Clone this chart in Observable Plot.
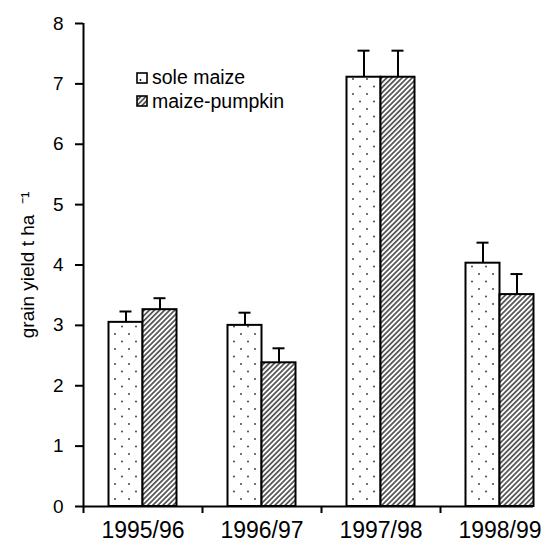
<!DOCTYPE html>
<html><head><meta charset="utf-8">
<script src="https://cdn.jsdelivr.net/npm/d3@7"></script>
<script src="https://cdn.jsdelivr.net/npm/@observablehq/plot@0.6"></script>
<style>
body{margin:0;background:#fff;}
#wrap{position:relative;width:555px;height:545px;font-family:"Liberation Sans",Arial,sans-serif;}
#legend{position:absolute;left:136px;top:66px;font-size:19.5px;color:#000;}
#legend .row{display:flex;align-items:center;height:23.5px;}
#legend svg{margin-right:4px;}
</style></head>
<body>
<svg width="0" height="0" style="position:absolute">
<defs>
<pattern id="dots" patternUnits="userSpaceOnUse" width="14" height="15">
 <rect width="14" height="15" fill="#fff"/>
 <circle cx="3" cy="4" r="0.9" fill="#333"/>
 <circle cx="10" cy="11.5" r="0.9" fill="#333"/>
</pattern>
<pattern id="hatch" patternUnits="userSpaceOnUse" width="3.6" height="3.6" patternTransform="rotate(45)">
 <rect width="3.6" height="3.6" fill="#fff"/>
 <line x1="0.9" y1="-1" x2="0.9" y2="4.6" stroke="#444" stroke-width="1.6"/>
</pattern>
</defs></svg>
<div id="wrap"></div>
<script>
const years = ["1995/96", "1996/97", "1997/98", "1998/99"];
const series = ["sole maize", "maize-pumpkin"];
const soleMaize = [3.05, 3.00, 7.11, 4.03];
const soleMaizeErr = [0.18, 0.21, 0.44, 0.34];
const maizePumpkin = [3.26, 2.38, 7.11, 3.51];
const maizePumpkinErr = [0.19, 0.24, 0.44, 0.34];
const yTicks = [0, 1, 2, 3, 4, 5, 6, 7, 8];
const yTitle = "grain yield t ha  \u207B\u00B9";

const fills = {"sole maize": "url(#dots)", "maize-pumpkin": "url(#hatch)"};

const sole = years.map((y, i) => ({year: y, series: series[0], value: soleMaize[i], err: soleMaizeErr[i]}));
const pump = years.map((y, i) => ({year: y, series: series[1], value: maizePumpkin[i], err: maizePumpkinErr[i]}));

const W = 555, H = 545, mL = 83, mR = 22, mT = 23, mB = 39;
const band = 119, barW = 34, capW = 12;

const chart = Plot.plot({
  width: W, height: H,
  marginLeft: mL, marginRight: mR, marginTop: mT, marginBottom: mB,
  style: {fontFamily: "Liberation Sans, Arial, sans-serif", color: "#000", background: "#fff"},
  x: {type: "band", domain: years, range: [mL, mL + band * years.length], padding: 0},
  y: {domain: [0, 8]},
  marks: [
    Plot.barY(sole, {x: "year", y: "value", fill: fills[series[0]], stroke: "#000", strokeWidth: 2,
      insetLeft: band / 2 - barW, insetRight: band / 2}),
    Plot.barY(pump, {x: "year", y: "value", fill: fills[series[1]], stroke: "#000", strokeWidth: 2,
      insetLeft: band / 2, insetRight: band / 2 - barW}),
    Plot.ruleX(sole, {x: "year", y1: "value", y2: d => d.value + d.err, dx: -barW / 2, strokeWidth: 2}),
    Plot.ruleX(pump, {x: "year", y1: "value", y2: d => d.value + d.err, dx: barW / 2, strokeWidth: 2}),
    Plot.tickY(sole, {x: "year", y: d => d.value + d.err, strokeWidth: 2,
      insetLeft: band / 2 - barW / 2 - capW / 2, insetRight: band / 2 + barW / 2 - capW / 2}),
    Plot.tickY(pump, {x: "year", y: d => d.value + d.err, strokeWidth: 2,
      insetLeft: band / 2 + barW / 2 - capW / 2, insetRight: band / 2 - barW / 2 - capW / 2}),
    Plot.ruleY([0], {strokeWidth: 2}),
    Plot.ruleX([years[0]], {dx: -band / 2, strokeWidth: 2}),
    Plot.axisY({ticks: yTicks, tickSize: 8, tickPadding: 12, fontSize: 19, strokeWidth: 2, label: null}),
    Plot.axisX({tickSize: 7, tickFormat: () => "", dx: -band / 2, strokeWidth: 2, label: null}),
    Plot.axisX({tickSize: 0, tickPadding: 15, fontSize: 23, label: null}),
    Plot.text([yTitle], {frameAnchor: "left", textAnchor: "middle", dx: -56, rotate: -90, fontSize: 19})
  ]
});

const wrap = document.getElementById("wrap");
wrap.appendChild(chart);

const legend = document.createElement("div");
legend.id = "legend";
series.forEach(s => {
  const row = document.createElement("div");
  row.className = "row";
  row.innerHTML = `<svg width="12" height="12"><rect x="1" y="1" width="10" height="10" fill="${s === series[0] ? "#fff" : fills[s]}" stroke="#000" stroke-width="1.6"/>${s === series[0] ? '<circle cx="4.5" cy="8" r="0.9" fill="#000"/>' : ''}</svg><span>${s}</span>`;
  legend.appendChild(row);
});
wrap.appendChild(legend);
</script>
</body></html>
